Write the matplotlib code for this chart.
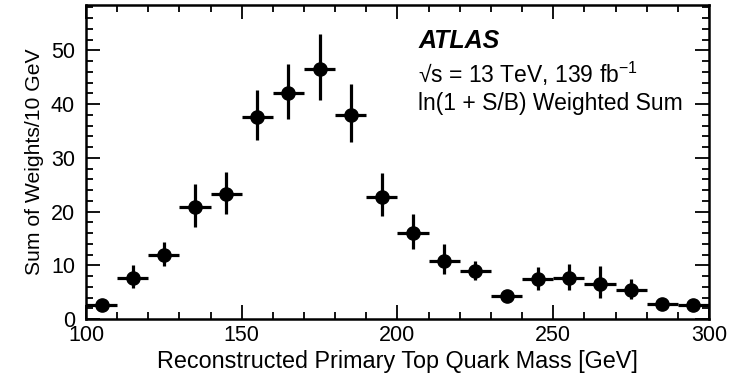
import numpy as np
import matplotlib
matplotlib.use('Agg')
import matplotlib.pyplot as plt
from matplotlib.ticker import MultipleLocator

plt.rcParams['font.family'] = ['Liberation Sans', 'DejaVu Sans']
plt.rcParams['mathtext.default'] = 'regular'

# Weighted sum per 10 GeV bin of the reconstructed primary top mass
bin_centers = [105, 115, 125, 135, 145, 155, 165, 175, 185, 195,
               205, 215, 225, 235, 245, 255, 265, 275, 285, 295]
weighted_sum = [2.6, 7.7, 11.9, 20.9, 23.2, 37.6, 42.1, 46.6, 37.9, 22.7,
                16.0, 10.8, 8.9, 4.3, 7.4, 7.6, 6.5, 5.5, 2.8, 2.6]
err_lo = [0.5, 1.9, 2.1, 3.7, 3.7, 4.3, 4.8, 5.8, 4.9, 3.6,
          2.9, 2.5, 1.7, 0.5, 1.9, 2.2, 2.5, 1.7, 0.5, 0.5]
err_hi = [0.5, 2.3, 2.5, 4.2, 4.2, 5.0, 5.4, 6.5, 5.9, 4.4,
          3.6, 3.1, 1.9, 0.5, 2.3, 2.7, 3.4, 1.9, 0.5, 0.5]
bin_width = 10

fig = plt.figure(figsize=(7.35, 3.75), dpi=100)
ax = fig.add_axes([0.117, 0.149, 0.8476, 0.8374])

ax.errorbar(bin_centers, weighted_sum, yerr=[err_lo, err_hi],
            xerr=bin_width / 2, fmt='o', color='black', ms=9.5,
            elinewidth=2.3, capsize=0, zorder=3)

ax.set_xlim(100, 300)
ax.set_ylim(0, 58.4)

# ATLAS-style inward ticks on every side
ax.xaxis.set_major_locator(MultipleLocator(50))
ax.xaxis.set_minor_locator(MultipleLocator(10))
ax.yaxis.set_major_locator(MultipleLocator(10))
ax.yaxis.set_minor_locator(MultipleLocator(2))
ax.tick_params(which='both', direction='in', top=True, right=True,
               width=1.3, labelsize=15.5, colors='black')
ax.tick_params(which='major', length=10)
ax.tick_params(which='minor', length=5)
ax.tick_params(axis='x', which='major', pad=4)
ax.tick_params(axis='y', which='major', pad=8)
for spine in ax.spines.values():
    spine.set_linewidth(1.8)

ax.set_xlabel('Reconstructed Primary Top Quark Mass [GeV]', fontsize=16.8, labelpad=3)
ax.set_ylabel('Sum of Weights/10 GeV', fontsize=15.2, labelpad=5)

ax.text(0.533, 0.863, 'ATLAS', transform=ax.transAxes, fontsize=18,
        fontweight='bold', fontstyle='italic', va='baseline')
ax.text(0.533, 0.752, '√s = 13 TeV, 139 fb$^{-1}$', transform=ax.transAxes,
        fontsize=16.5, va='baseline')
ax.text(0.533, 0.666, 'ln(1 + S/B) Weighted Sum', transform=ax.transAxes,
        fontsize=16.5, va='baseline')

fig.savefig('out.png', dpi=100)
